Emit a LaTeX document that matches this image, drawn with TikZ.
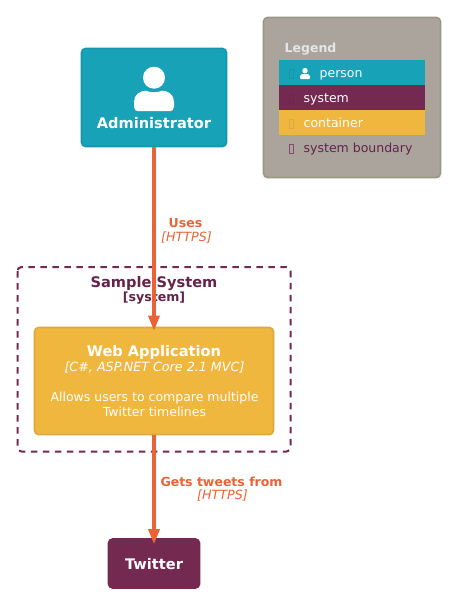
\documentclass[tikz,border=0pt]{standalone}
\usepackage{fontspec}
\setmainfont{DejaVu Sans}
\usetikzlibrary{arrows.meta}
\definecolor{personc}{HTML}{17A2B8}
\definecolor{personb}{HTML}{1497AC}
\definecolor{systemc}{HTML}{742950}
\definecolor{containerc}{HTML}{F0B73F}
\definecolor{containerb}{HTML}{DDA83C}
\definecolor{legendc}{HTML}{ABA49C}
\definecolor{legendb}{HTML}{9C9688}
\definecolor{arrowc}{HTML}{EA6337}
\definecolor{boundc}{HTML}{63234A}
\tikzset{
  x=1pt,y=-1pt,
  box/.style={draw,line width=1.6pt,rounded corners=4pt,inner sep=0pt},
  rowbox/.style={inner sep=0pt,minimum width=146pt,minimum height=25pt},
  rowtext/.style={anchor=base west,inner sep=0pt,text=white,font=\fontsize{12.5}{15}\selectfont},
  tofu/.style={draw,line width=0.7pt,inner sep=0pt,minimum width=4pt,minimum height=9pt},
  rel/.style={draw=arrowc,line width=3.2pt,-{Triangle[length=15pt,width=11pt,fill=arrowc]}},
  rellabel/.style={text=arrowc,align=center,inner sep=0pt},
}
\newcommand{\personicon}[3]{% x, y (head centre), scale
  \fill[white,shift={(#1,#2)},scale=#3] (0,0) circle[radius=11]
    (-20,29) -- (-20,24) .. controls (-20,17) and (-14,13) .. (-8,13)
    .. controls (-4,15) and (4,15) .. (8,13) .. controls (14,13) and (20,17) .. (20,24)
    -- (20,29) .. controls (20,32) and (18,33.5) .. (16,33.5)
    -- (-16,33.5) .. controls (-18,33.5) and (-20,32) .. (-20,29) -- cycle;
}
\begin{document}
\begin{tikzpicture}
\useasboundingbox (0,0) rectangle (451,598);
% legend
\node[box,draw=legendb,fill=legendc,minimum width=177pt,minimum height=160pt] (legend) at (352,97.5) {};
\node[anchor=base west,inner sep=0pt,text=white!90!black,font=\bfseries\fontsize{12.5}{15}\selectfont] (legendtitle) at (284.5,52.5) {Legend};
\node[rowbox,fill=personc] (lperson) at (352,72.5) {};
\node[rowbox,fill=systemc] (lsystem) at (352,97.5) {};
\node[rowbox,fill=containerc] (lcontainer) at (352,122.5) {};
\node[tofu,draw=personb] (tp) at (291.7,73.5) {};
\node[tofu,draw=systemc!92!black] (ts) at (291.7,98.5) {};
\node[tofu,draw=containerb] (tc) at (291.7,123.5) {};
\node[tofu,draw=systemc!85!white] (tb) at (291.7,148.5) {};
\personicon{305}{70.7}{0.25}
\node[rowtext] (lt1) at (319.5,77.5) {person};
\node[rowtext] (lt2) at (303.5,102.5) {system};
\node[rowtext] (lt3) at (303.5,127) {container};
\node[rowtext,text=boundc] (lt4) at (303.5,152) {system boundary};
% boundary
\draw[draw=systemc,line width=2pt,dash pattern=on 6.5pt off 5.5pt,rounded corners=4pt] (17.5,267) rectangle (290.5,451.5);
\node[inner sep=0pt,text=boundc,font=\bfseries\fontsize{14.6}{17}\selectfont] (bname) at (154,283.5) {Sample System};
\node[inner sep=0pt,text=boundc,font=\bfseries\fontsize{12.6}{15}\selectfont] (btype) at (154,298.5) {[system]};
% nodes
\node[box,draw=personb,fill=personc,minimum width=145pt,minimum height=98pt] (admin) at (154,97.5) {};
\personicon{154}{77.7}{1}
\node[inner sep=0pt,text=white,font=\bfseries\fontsize{14.6}{17}\selectfont] (admint) at (154,123) {Administrator};
\node[box,draw=containerb,fill=containerc,minimum width=239pt,minimum height=107pt] (web) at (154,381) {};
\node[inner sep=0pt,text=white,font=\bfseries\fontsize{14.6}{17}\selectfont] (webt) at (154,352.5) {Web Application};
\node[inner sep=0pt,text=white,font=\itshape\fontsize{12.7}{15}\selectfont] (webs) at (154.5,368) {[C\#, ASP.NET Core 2.1 MVC]};
\node[inner sep=0pt,text=white,align=center,font=\fontsize{12.5}{15}\selectfont] (webd) at (154.5,404.5) {Allows users to compare multiple\\Twitter timelines};
\node[box,draw=systemc,fill=systemc,minimum width=91pt,minimum height=49pt] (twitter) at (154,563.5) {};
\node[inner sep=0pt,text=white,font=\bfseries\fontsize{14.6}{17}\selectfont] (twittert) at (154,564) {Twitter};
% connectors
\draw[rel,shorten >=-4pt,xshift=0.5pt] (admin) -- (web);
\draw[rel,shorten >=-6pt,xshift=0.5pt] (web) -- (twitter);
% labels
\node[rellabel,font=\bfseries\fontsize{12.5}{15}\selectfont] (u1) at (185.5,223.5) {Uses};
\node[rellabel,font=\itshape\fontsize{12.7}{15}\selectfont] (u2) at (186.5,237.5) {[HTTPS]};
\node[rellabel,font=\bfseries\fontsize{12.5}{15}\selectfont] (g1) at (221.5,481.5) {Gets tweets from};
\node[rellabel,font=\itshape\fontsize{12.7}{15}\selectfont] (g2) at (222.5,496) {[HTTPS]};
\end{tikzpicture}
\end{document}
